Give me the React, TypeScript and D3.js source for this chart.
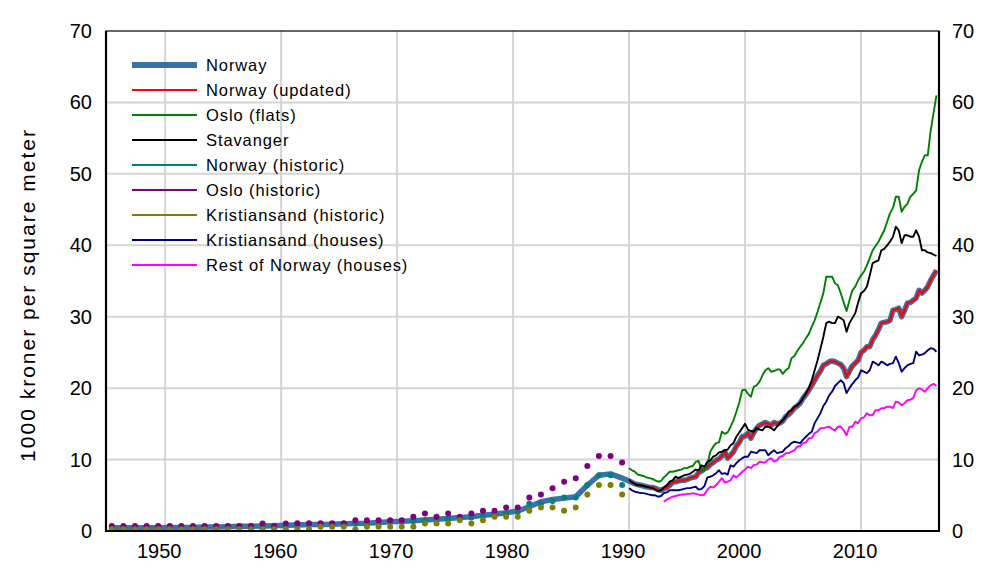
import React, { useEffect, useRef } from "react";
import * as d3 from "d3";

// annual historic series, 1945-1989
const historicYears = d3.range(1945, 1990);

const norwayAnnual = [
  0.45, 0.45, 0.45, 0.45, 0.45, 0.5, 0.5, 0.5, 0.55, 0.55,
  0.6, 0.65, 0.65, 0.7, 0.75, 0.8, 0.85, 0.9, 0.9, 0.95,
  1.0, 1.05, 1.1, 1.2, 1.3, 1.35, 1.45, 1.55, 1.65, 1.75,
  1.9, 2.0, 2.2, 2.35, 2.55, 2.8, 3.4, 4.1, 4.4, 4.6,
  4.8, 6.4, 7.8, 8.0, 7.4,
];

const norwayHistoric = [
  0.45, 0.45, 0.45, 0.45, 0.45, 0.5, 0.5, 0.5, 0.5, 0.55,
  0.6, 0.6, 0.65, 0.7, 0.75, 0.8, 0.85, 0.85, 0.9, 0.95,
  1.0, 1.05, 1.1, 1.2, 1.25, 1.3, 1.4, 1.5, 1.55, 1.7,
  1.8, 1.9, 2.1, 2.3, 2.5, 2.7, 3.8, 3.8, 4.2, 4.7,
  4.7, 6.45, 7.8, 7.8, 6.45,
];

const osloHistoric = [
  0.7, 0.7, 0.7, 0.7, 0.7, 0.7, 0.7, 0.7, 0.7, 0.7,
  0.7, 0.7, 0.7, 1.05, 0.7, 1.05, 1.1, 1.1, 1.1, 1.1,
  1.1, 1.5, 1.5, 1.5, 1.5, 1.5, 2.0, 2.45, 2.0, 2.45,
  2.0, 2.45, 2.85, 2.85, 3.3, 3.3, 4.7, 5.1, 6.0, 6.9,
  7.4, 9.1, 10.5, 10.5, 9.6,
];

const kristiansandHistoric = [
  0.25, 0.25, 0.25, 0.25, 0.25, 0.25, 0.25, 0.25, 0.25, 0.25,
  0.25, 0.25, 0.25, 0.25, 0.25, 0.25, 0.25, 0.25, 0.6, 0.6,
  0.6, 0.25, 0.6, 0.6, 0.6, 0.6, 0.6, 1.05, 1.05, 1.05,
  1.5, 1.05, 1.5, 2.0, 2.0, 2.0, 2.85, 3.3, 3.3, 2.85,
  3.3, 5.1, 6.45, 6.45, 5.1,
];

// quarterly series, 1990Q1-2016Q3
const quarterStart = 1990;

const norwayUpdated = [
  7.0, 6.8, 6.6, 6.5,
  6.4, 6.3, 6.2, 6.1,
  6.1, 6.0, 5.8, 5.7,
  5.9, 6.1, 6.4, 6.8,
  6.9, 7.0, 7.1, 7.1,
  7.2, 7.4, 7.5, 7.6,
  8.2, 8.4, 8.7, 8.9,
  9.3, 9.6, 9.9, 10.1,
  10.5, 11.1, 10.2, 10.6,
  11.1, 11.9, 12.4, 13.2,
  13.3, 13.7, 13.0, 13.8,
  14.4, 14.8, 15.0, 15.2,
  15.0, 14.8, 15.2, 15.0,
  15.1, 15.4, 16.0, 16.3,
  16.7, 17.2, 17.5, 17.9,
  18.6, 19.1, 19.7, 20.4,
  21.1, 21.8, 22.4, 23.2,
  23.4, 23.7, 23.8, 23.7,
  23.5, 23.3, 22.8, 21.6,
  22.4, 23.1, 23.5, 23.9,
  25.0, 25.3, 25.8, 25.8,
  26.8, 27.4, 28.2, 29.1,
  29.2, 29.3, 29.5, 30.9,
  31.0, 31.2, 30.0, 30.9,
  31.9, 32.0, 32.3, 32.6,
  33.7, 33.3, 33.7, 34.2,
  35.1, 35.8, 36.5,
];

const osloFlats = [
  8.8, 8.5, 8.3, 7.9,
  7.8, 7.7, 7.5, 7.4,
  7.3, 7.1, 6.9, 7.0,
  7.5, 7.9, 8.3, 8.3,
  8.4, 8.5, 8.6, 8.8,
  8.8, 9.0, 9.1, 9.7,
  9.8, 8.4, 8.5, 9.3,
  11.1, 11.8, 12.3, 12.4,
  13.9, 13.6, 13.8, 14.6,
  15.5, 16.7, 18.0, 19.7,
  19.8, 19.2, 18.8, 20.2,
  20.4, 20.9, 21.8, 22.5,
  22.8, 22.3, 22.4, 22.6,
  22.6, 22.0, 22.5, 22.8,
  24.2, 24.5, 25.2, 25.8,
  26.3, 27.0, 27.6, 28.6,
  29.5, 30.7, 32.0, 33.3,
  35.6, 35.6, 35.6, 34.7,
  34.4, 33.3, 32.0, 30.8,
  32.3, 33.7, 34.2, 35.1,
  35.8, 36.3, 37.2, 38.2,
  39.3, 39.9, 40.5, 41.3,
  42.1, 43.3, 44.5, 45.2,
  46.8, 46.8, 44.7, 45.4,
  45.8, 46.8, 47.2, 47.7,
  50.5, 51.7, 52.6, 52.6,
  56.0, 58.5, 61.0,
];

const stavanger = [
  7.2, 6.8, 6.6, 6.4,
  6.4, 6.3, 6.2, 6.1,
  6.0, 5.8, 5.6, 5.7,
  6.1, 6.4, 6.9, 7.1,
  7.6, 7.4, 7.6, 7.8,
  7.9, 8.0, 8.3, 8.6,
  8.5, 9.2, 9.0, 9.7,
  9.9, 10.4, 10.6, 11.0,
  11.1, 11.3, 11.4, 12.0,
  12.3, 13.2, 13.8, 14.4,
  15.0, 14.2, 14.0, 13.9,
  14.4, 14.2, 14.1, 14.6,
  14.6, 14.4, 14.1, 14.6,
  15.1, 15.5, 16.0, 16.7,
  16.9, 17.4, 17.6, 18.0,
  18.6, 19.3, 20.0, 21.1,
  22.5, 23.9, 25.5, 27.2,
  29.1, 29.3, 29.1, 29.1,
  30.0, 29.8, 29.5, 27.9,
  29.1, 29.8, 30.5, 32.0,
  33.3, 33.6, 34.2, 35.8,
  37.5, 37.7, 37.9, 39.3,
  39.5, 40.0, 40.5, 41.2,
  42.6, 42.1, 40.3, 41.4,
  41.4, 41.2, 41.2, 42.1,
  41.2, 39.3, 39.3, 39.0,
  38.9, 38.7, 38.5,
];

const kristiansandHouses = [
  6.0, 5.7, 5.5, 5.4,
  5.3, 5.3, 5.2, 5.1,
  5.0, 5.0, 4.8, 4.9,
  5.3, 5.4, 5.7, 5.7,
  5.7, 5.7, 5.8, 5.9,
  6.0, 6.0, 6.1, 6.2,
  5.8, 5.9, 6.3, 7.5,
  7.6, 7.8, 8.1, 8.5,
  8.0, 8.1, 7.9, 9.2,
  9.0, 9.5, 9.9, 10.2,
  10.4, 10.4, 11.1, 11.0,
  10.9, 11.3, 11.3, 11.3,
  10.6, 11.0, 11.3, 10.9,
  11.0, 11.1, 11.6, 11.9,
  12.3, 12.5, 12.4, 12.3,
  12.8, 13.2, 13.6, 13.9,
  15.1, 15.8, 16.5, 17.5,
  18.1, 19.0, 19.5, 20.3,
  20.7, 21.1, 20.7, 19.3,
  20.0, 20.6, 21.1, 21.5,
  22.5, 22.3, 22.1, 22.5,
  23.7, 23.5, 23.2, 23.7,
  23.5, 23.2, 23.4, 23.5,
  24.4, 23.5, 22.3, 22.8,
  23.2, 23.4, 23.5, 25.1,
  24.6, 24.7, 24.9, 25.3,
  25.6, 25.5, 25.1,
];

// starts 1993Q1
const restStart = 1993;
const restOfNorway = [
  4.1, 4.4, 4.6, 4.8,
  4.9, 5.0, 5.1, 5.1,
  5.2, 5.2, 5.3, 5.2,
  5.1, 5.0, 5.1, 5.8,
  6.2, 6.1, 6.4, 6.9,
  7.4, 6.8, 6.9, 7.1,
  7.8, 7.5, 7.9, 8.3,
  8.6, 9.0, 8.8, 9.2,
  9.3, 9.7, 9.6, 9.6,
  10.0, 10.2, 9.7, 9.9,
  10.4, 10.5, 10.9, 10.9,
  11.1, 11.3, 11.8, 11.9,
  12.3, 12.4, 13.0, 13.0,
  13.7, 13.9, 14.4, 14.4,
  14.5, 14.6, 14.3, 14.1,
  14.6, 14.6, 14.1, 13.4,
  14.6, 14.6, 15.3, 15.1,
  15.8, 15.9, 16.5, 16.2,
  16.2, 16.9, 16.9, 17.2,
  17.2, 17.4, 17.4, 17.2,
  18.1, 18.0, 17.6, 17.9,
  18.3, 18.4, 18.6, 19.7,
  20.0, 19.8, 19.5, 20.0,
  20.4, 20.6, 20.3,
];

const legendNames = [
  "Norway",
  "Norway (updated)",
  "Oslo (flats)",
  "Stavanger",
  "Norway (historic)",
  "Oslo (historic)",
  "Kristiansand (historic)",
  "Kristiansand (houses)",
  "Rest of Norway (houses)",
];
const legendColors = [
  "#3a72a8", "#ff0000", "#008000", "#000000", "#008080",
  "#800080", "#808000", "#000080", "#ff00ff",
];

const yTicks = [0, 10, 20, 30, 40, 50, 60, 70];
const xTicks = [1950, 1960, 1970, 1980, 1990, 2000, 2010];

type Pt = [number, number];

const App: React.FC = () => {
  const svgRef = useRef<SVGSVGElement | null>(null);

  useEffect(() => {
    if (!svgRef.current) return;
    const width = 985;
    const height = 574;
    const font = "'Liberation Sans', Arial, sans-serif";

    const svg = d3.select(svgRef.current);
    svg.selectAll("*").remove();
    svg.attr("width", width).attr("height", height);

    const x = d3.scaleLinear().domain([1944.9, 2016.72]).range([106, 939]);
    const y = d3.scaleLinear().domain([0, 70]).range([531, 31]);

    // gridlines
    const grid = svg.append("g").attr("stroke", "#d4d4d4").attr("stroke-width", 2);
    grid.selectAll("line.h")
      .data(yTicks.filter(t => t > 0 && t < 70))
      .enter().append("line")
      .attr("x1", x.range()[0]).attr("x2", x.range()[1])
      .attr("y1", d => y(d)).attr("y2", d => y(d));
    grid.selectAll("line.v")
      .data(xTicks)
      .enter().append("line")
      .attr("x1", d => x(d)).attr("x2", d => x(d))
      .attr("y1", y(0)).attr("y2", y(70));

    const line = d3.line<Pt>().x(d => x(d[0])).y(d => y(d[1]));
    const quarterly = (vals: number[], start: number): Pt[] =>
      vals.map((v, i) => [start + i / 4, v]);
    const annual = (vals: number[]): Pt[] =>
      vals.map((v, i) => [historicYears[i] + 0.4, v]);

    const g = svg.append("g").attr("fill", "none").attr("stroke-linejoin", "round");

    // Norway: long series (historic annual + quarterly)
    g.append("path")
      .attr("d", line([...annual(norwayAnnual), ...quarterly(norwayUpdated, quarterStart)]))
      .attr("stroke", legendColors[0]).attr("stroke-width", 5.5);

    const thin: [number[], number, string][] = [
      [norwayUpdated, quarterStart, legendColors[1]],
      [osloFlats, quarterStart, legendColors[2]],
      [stavanger, quarterStart, legendColors[3]],
      [kristiansandHouses, quarterStart, legendColors[7]],
      [restOfNorway, restStart, legendColors[8]],
    ];
    thin.forEach(([vals, start, color]) => {
      g.append("path")
        .attr("d", line(quarterly(vals, start)))
        .attr("stroke", color)
        .attr("stroke-width", color === "#ff0000" ? 2.2 : 1.9);
    });

    // historic series as dots
    const dots: [number[], string][] = [
      [norwayHistoric, legendColors[4]],
      [osloHistoric, legendColors[5]],
      [kristiansandHistoric, legendColors[6]],
    ];
    dots.forEach(([vals, color]) => {
      svg.append("g").selectAll("circle")
        .data(annual(vals))
        .enter().append("circle")
        .attr("cx", d => x(d[0])).attr("cy", d => y(d[1]))
        .attr("r", 3).attr("fill", color);
    });

    // frame
    svg.append("rect")
      .attr("x", 106).attr("y", 31)
      .attr("width", 939 - 106).attr("height", 531 - 31)
      .attr("fill", "none").attr("stroke", "#000").attr("stroke-width", 1.2);
    svg.append("line").attr("x1", 106).attr("x2", 106).attr("y1", 31).attr("y2", 532)
      .attr("stroke", "#000").attr("stroke-width", 2.2);
    svg.append("line").attr("x1", 939).attr("x2", 939).attr("y1", 31).attr("y2", 532)
      .attr("stroke", "#000").attr("stroke-width", 2.2);
    svg.append("line").attr("x1", 105).attr("x2", 940).attr("y1", 531).attr("y2", 531)
      .attr("stroke", "#000").attr("stroke-width", 2.2);

    // axis labels
    const labels = svg.append("g").attr("font-family", font).attr("font-size", 20).attr("fill", "#000");
    labels.selectAll("text.yl")
      .data(yTicks).enter().append("text")
      .attr("x", 92).attr("y", d => y(d)).attr("dy", "0.35em")
      .attr("text-anchor", "end").text(d => d);
    labels.selectAll("text.yr")
      .data(yTicks).enter().append("text")
      .attr("x", 952).attr("y", d => y(d)).attr("dy", "0.35em")
      .attr("text-anchor", "start").text(d => d);
    labels.selectAll("text.x")
      .data(xTicks).enter().append("text")
      .attr("x", d => x(d) - 6).attr("y", 558)
      .attr("text-anchor", "middle").text(d => d);
    labels.append("text")
      .attr("transform", `translate(35,${(y(0) + y(70)) / 2 + 14}) rotate(-90)`)
      .attr("text-anchor", "middle")
      .attr("font-size", 21)
      .attr("letter-spacing", 2)
      .text("1000 kroner per square meter");

    // legend
    const legend = svg.append("g").attr("font-family", font).attr("font-size", 16.5)
      .attr("letter-spacing", 0.9);
    legendNames.forEach((name, i) => {
      const ly = 65 + i * 25;
      legend.append("line")
        .attr("x1", 132).attr("x2", 197).attr("y1", ly).attr("y2", ly)
        .attr("stroke", legendColors[i]).attr("stroke-width", i === 0 ? 6 : 2);
      legend.append("text")
        .attr("x", 206).attr("y", ly).attr("dy", "0.35em")
        .attr("fill", "#000").text(name);
    });
  }, []);

  return (
    <div style={{ position: "absolute", left: 0, top: 0 }}>
      <svg ref={svgRef} style={{ display: "block" }}></svg>
    </div>
  );
};

export default App;
